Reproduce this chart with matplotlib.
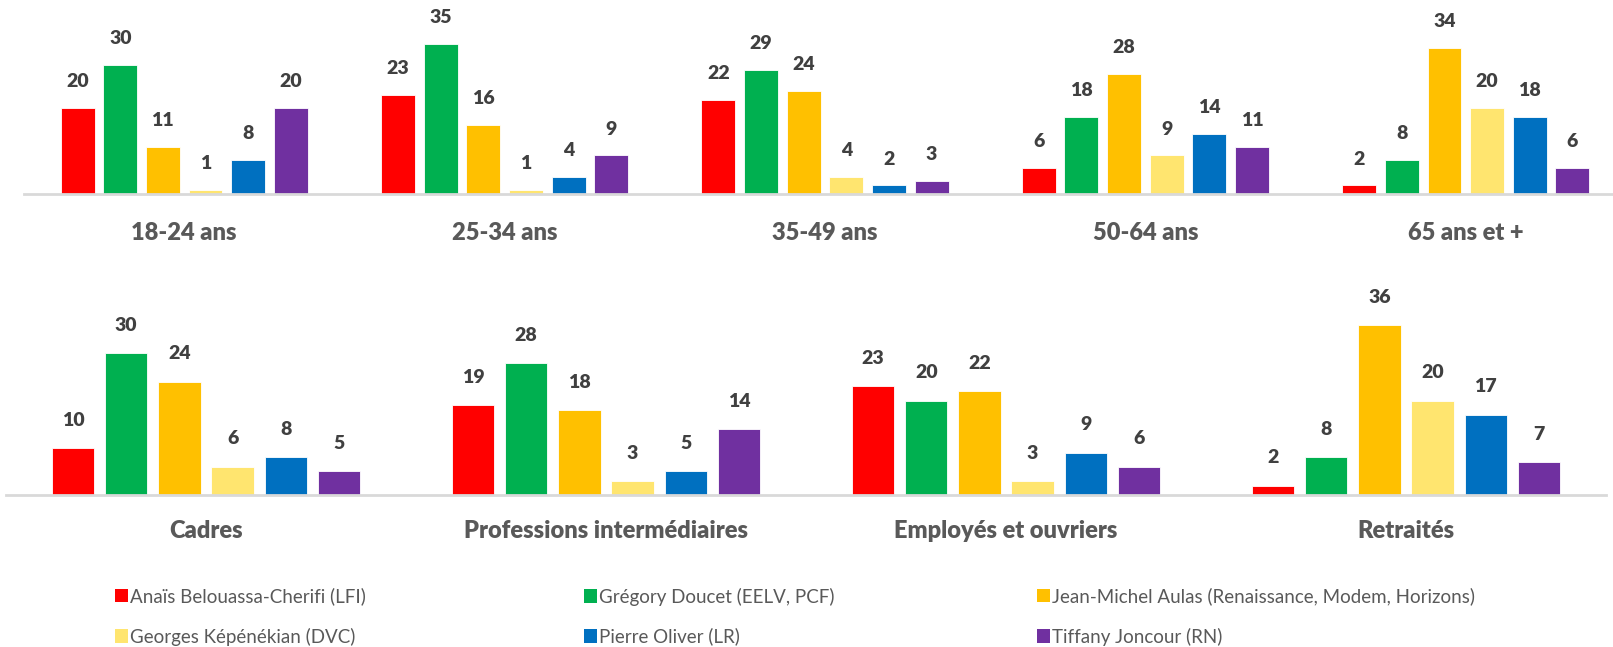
import numpy as np
import matplotlib.pyplot as plt
from matplotlib.patches import Patch

plt.rcParams["font.family"] = ["Lato", "DejaVu Sans"]

# === Data ===
candidates = [
    "Anaïs Belouassa-Cherifi (LFI)",
    "Grégory Doucet (EELV, PCF)",
    "Jean-Michel Aulas (Renaissance, Modem, Horizons)",
    "Georges Képénékian (DVC)",
    "Pierre Oliver (LR)",
    "Tiffany Joncour (RN)",
]
colors = ["#FF0000", "#00B050", "#FFC000", "#FFE56F", "#0070C0", "#7030A0"]

age_groups = ["18-24 ans", "25-34 ans", "35-49 ans", "50-64 ans", "65 ans et +"]
age_values = [
    [20, 23, 22, 6, 2],     # Belouassa-Cherifi
    [30, 35, 29, 18, 8],    # Doucet
    [11, 16, 24, 28, 34],   # Aulas
    [1, 1, 4, 9, 20],       # Képénékian
    [8, 4, 2, 14, 18],      # Oliver
    [20, 9, 3, 11, 6],      # Joncour
]

csp_groups = ["Cadres", "Professions intermédiaires", "Employés et ouvriers", "Retraités"]
csp_values = [
    [10, 19, 23, 2],
    [30, 28, 20, 8],
    [24, 18, 22, 36],
    [6, 3, 3, 20],
    [8, 5, 9, 17],
    [5, 14, 6, 7],
]

W, H = 1613, 647
fig = plt.figure(figsize=(W / 100, H / 100), dpi=100)


def draw_row(ax, groups, values, label_offset, pad):
    x = np.arange(len(groups))
    pitch = 0.133
    width = 0.106
    for i, (vals, c) in enumerate(zip(values, colors)):
        pos = x + (i - 2.5) * pitch
        ax.bar(pos, vals, width=width, color=c, edgecolor="white", linewidth=0.6, zorder=2)
        for px, v in zip(pos, vals):
            ax.annotate(str(v), (px, v), xytext=(0, label_offset), textcoords="offset points",
                        ha="center", va="center", fontsize=14, fontweight="heavy", color="#404040")
    ax.set_xlim(-0.5, len(groups) - 0.5)
    ax.set_ylim(0, 40)
    ax.set_yticks([])
    ax.set_xticks(x)
    ax.set_xticklabels(groups, fontsize=17, fontweight="heavy", color="#595959")
    ax.tick_params(axis="x", length=0, pad=pad)
    for s in ["top", "right", "left"]:
        ax.spines[s].set_visible(False)
    ax.spines["bottom"].set_color("#D9D9D9")
    ax.spines["bottom"].set_linewidth(2)
    ax.patch.set_alpha(0)


# top row: baseline at y=194 px, 4.29 px per unit
ax1 = fig.add_axes([24 / W, (H - 194) / H, 1602 / W, 40 * 4.29 / H])
draw_row(ax1, age_groups, age_values, 19, 20)

# bottom row: baseline at y=495 px, 4.72 px per unit
ax2 = fig.add_axes([6 / W, (H - 495) / H, 1600 / W, 40 * 4.72 / H])
draw_row(ax2, csp_groups, csp_values, 20, 18)

# === Legend: three columns of two ===
col_x = [107, 576, 1029]
for j, cx in enumerate(col_x):
    handles = [Patch(facecolor=colors[k], label=candidates[k]) for k in (j, j + 3)]
    fig.legend(handles=handles, loc="upper left", bbox_to_anchor=(cx / W, 1 - 580 / H),
               frameon=False, fontsize=13.5, handlelength=0.7, handleheight=0.7,
               handletextpad=0.15, labelspacing=1.18, labelcolor="#595959", borderaxespad=0)

fig.savefig("out.png", dpi=100)
